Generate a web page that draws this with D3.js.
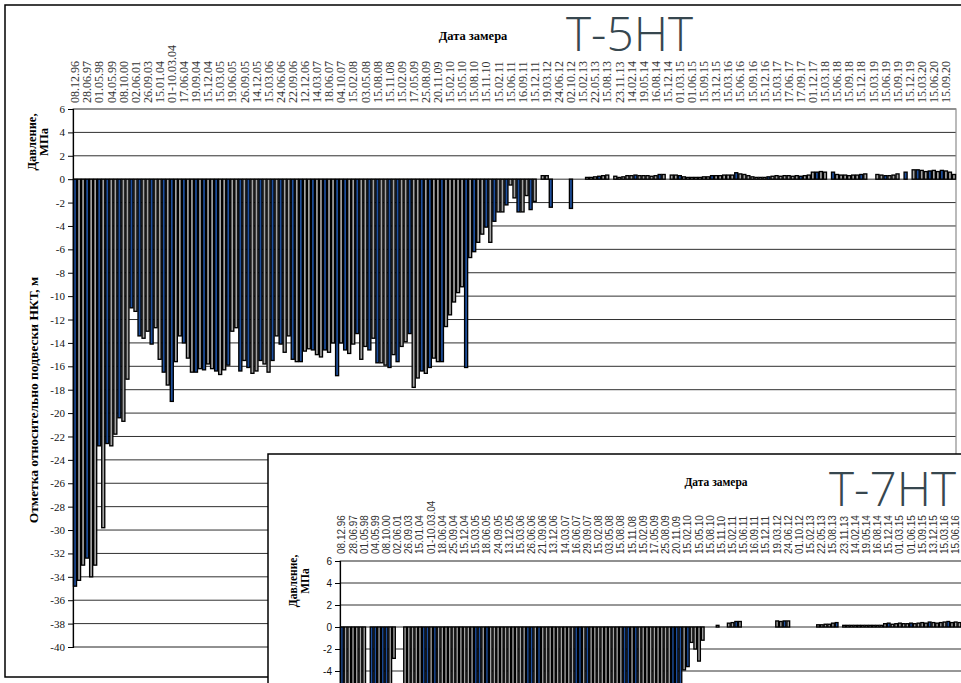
<!DOCTYPE html>
<html><head><meta charset="utf-8">
<script src="https://cdn.jsdelivr.net/npm/d3@7"></script>
<style>html,body{margin:0;padding:0;background:#fff;} svg{display:block;}</style>
</head><body>
<svg id="chart" width="961" height="683"></svg>
<script>
// ---------- DATA: well T-5НТ ----------
const datesT5 = ["08.12.96","28.06.97","01.05.98","04.05.99","08.10.00","02.06.01","26.09.03","15.01.04","01-10.03.04","17.06.04",
"19.09.04","15.12.04","15.03.05","19.06.05","26.09.05","14.12.05","15.03.06","24.06.06","22.09.06","12.12.06",
"14.03.07","18.06.07","04.10.07","15.02.08","03.05.08","15.08.08","15.11.08","15.02.09","17.05.09","25.08.09",
"20.11.09","15.02.10","15.05.10","15.08.10","15.11.10","15.02.11","15.06.11","16.09.11","15.12.11","19.03.12",
"24.06.12","02.10.12","15.02.13","22.05.13","15.08.13","23.11.13","14.02.14","19.05.14","16.08.14","15.12.14",
"01.03.15","01.06.15","15.09.15","13.12.15","15.03.16","15.06.16","15.09.16","15.12.16","15.03.17","17.06.17",
"17.09.17","01.12.17","15.03.18","15.06.18","15.09.18","15.12.18","15.03.19","15.06.19","15.09.19","15.12.19",
"15.03.20","15.06.20","15.09.20"];
// level relative to tubing hanger, m (one value per measurement, 219 measurements)
const levelT5 = [
-34.8,-34.3,-33.0,-32.4,-34.0,-33.0,-22.8,-29.8,-22.6,-22.8,
-21.8,-20.4,-20.7,-17.1,-11.0,-11.3,-13.4,-13.6,-13.0,-14.1,
-12.7,-15.4,-16.5,-17.6,-19.0,-15.6,-13.4,-14.0,-15.3,-16.5,
-16.5,-16.2,-16.3,-15.8,-16.2,-16.4,-16.7,-16.3,-15.9,-13.0,
-12.7,-16.4,-15.5,-16.1,-16.6,-16.4,-15.5,-15.8,-16.5,-15.5,
-13.4,-14.1,-14.8,-13.4,-15.4,-15.6,-15.6,-14.7,-14.5,-14.6,
-15.0,-15.2,-14.6,-14.8,-14.0,-16.8,-14.0,-14.6,-14.9,-14.1,
-13.2,-15.4,-14.3,-14.6,-13.6,-15.7,-15.7,-15.9,-16.1,-15.0,
-15.6,-14.3,-13.9,-13.2,-17.8,-17.0,-16.4,-16.6,-16.1,-15.3,
-15.6,-15.6,-12.6,-11.6,-10.5,-9.7,-9.2,-16.1,-6.7,-6.2,
-5.4,-4.7,-4.1,-5.4,-3.6,-2.8,-2.8,-2.2,-0.5,-1.6,
-2.8,-2.8,-1.4,-2.6,-1.9,null,null,null,-2.4,null,
null,null,null,-2.5,null,null,null,null,null,null,
null,null,null,null,null,null,null,null,null,null,
null,null,null,null,null,null,null,null,null,null,
null,null,null,null,null,null,null,null,null,null,
null,null,null,null,null,null,null,null,null,null,
null,null,null,null,null,null,null,null,null,null,
null,null,null,null,null,null,null,null,null,null,
null,null,null,null,null,null,null,null,null,null,
null,null,null,null,null,null,null,null,null,null,
null,null,null,null,null,null,null,null,null];
// pressure, MPa
const pressureT5 = [
null,null,null,null,null,null,null,null,null,null,
null,null,null,null,null,null,null,null,null,null,
null,null,null,null,null,null,null,null,null,null,
null,null,null,null,null,null,null,null,null,null,
null,null,null,null,null,null,null,null,null,null,
null,null,null,null,null,null,null,null,null,null,
null,null,null,null,null,null,null,null,null,null,
null,null,null,null,null,null,null,null,null,null,
null,null,null,null,null,null,null,null,null,null,
null,null,null,null,null,null,null,null,null,null,
null,null,null,null,null,null,null,null,null,null,
null,null,null,null,null,null,0.3,0.3,null,null,
null,null,null,null,null,null,null,0.15,0.15,0.2,
0.25,0.3,0.35,null,0.25,0.15,0.2,0.3,0.3,0.35,
0.3,0.3,0.3,0.25,0.3,0.4,0.4,null,0.35,0.35,
0.3,0.2,0.15,0.15,0.15,0.15,0.2,0.2,0.3,0.3,
0.3,0.35,0.35,0.35,0.55,0.45,0.4,0.3,0.2,0.15,
0.15,0.15,0.2,0.25,0.3,0.25,0.3,0.3,0.25,0.3,
0.25,0.3,0.35,0.6,0.6,0.65,0.6,null,0.6,0.4,
0.35,0.35,0.3,0.35,0.35,0.4,0.45,null,null,0.4,
0.35,0.3,0.3,0.35,0.45,null,0.6,null,0.8,0.8,
0.75,0.65,0.7,0.75,0.65,0.75,0.7,0.6,0.4];
// measurements drawn in blue (second measurement type)
const blueT5 = [0,3,6,8,11,14,16,19,22,24,27,30,32,35,38,41,43,46,49,51,54,56,59,62,65,67,70,73,75,78,80,83,86,88,91,97,99,102,104,107,110,113,118,123,130,139,145,150,158,164,172,180,184,188,195,201,206,209,212,215];

// ---------- DATA: well T-7НТ (visible part) ----------
const datesT7 = ["08.12.96","28.06.97","01.05.98","04.05.99","08.10.00","02.06.01","26.09.03","15.01.04","01-10.03.04","18.06.04",
"25.09.04","15.12.04","15.03.05","18.06.05","24.09.05","13.12.05","15.03.06","26.06.06","21.09.06","13.12.06",
"14.03.07","16.06.07","29.09.07","15.02.08","03.05.08","15.08.08","15.11.08","15.02.09","17.05.09","25.08.09",
"20.11.09","15.02.10","15.05.10","15.08.10","15.11.10","15.02.11","15.06.11","16.09.11","15.12.11","19.03.12",
"24.06.12","01.10.12","15.02.13","22.05.13","15.08.13","23.11.13","14.02.14","19.05.14","16.08.14","15.12.14",
"01.03.15","01.06.15","15.09.15","13.12.15","15.03.16","15.06.16"];
const levelT7 = [
-36.0,-35.0,-33.5,-33.0,-31.0,-29.0,-27.0,null,-25.0,-24.0,
-22.5,-21.0,-20.0,-17.0,-2.85,null,null,-13.5,-14.0,-14.8,
-15.2,-15.0,-16.1,-16.4,-15.8,-15.5,-16.0,-16.3,-15.9,-15.2,
-14.6,-14.9,-15.7,-16.2,-16.0,-15.4,-15.1,-14.8,-15.6,-16.1,
-16.5,-15.9,-15.3,-14.7,-14.2,-14.9,-15.5,-15.8,-16.0,-15.6,
-15.0,-14.4,-14.8,-15.3,-15.9,-16.3,-16.6,-16.1,-15.4,-14.9,
-14.5,-15.0,-15.7,-16.2,-16.8,-17.1,-16.5,-15.8,-15.2,-14.6,
-14.0,-13.6,-15.2,-12.8,-14.3,-11.9,-13.4,-10.8,-12.2,-9.7,
-11.1,-8.6,-10.0,-7.6,-9.1,-6.7,-8.3,-6.0,-7.4,-6.2,
-5.8,-5.9,-3.9,-3.6,-1.4,-2.0,-3.1,-1.2,null,null,
null,null,null,null,null,null,null,null,null,null,
null,null,null,null,null,null,null,null,null,null,
null,null,null,null,null,null,null,null,null,null,
null,null,null,null,null,null,null,null,null,null,
null,null,null,null,null,null,null,null,null,null,
null,null,null,null,null,null,null,null,null,null,
null,null,null,null,null,null,null,null];
const pressureT7 = [
null,null,null,null,null,null,null,null,null,null,
null,null,null,null,null,null,null,null,null,null,
null,null,null,null,null,null,null,null,null,null,
null,null,null,null,null,null,null,null,null,null,
null,null,null,null,null,null,null,null,null,null,
null,null,null,null,null,null,null,null,null,null,
null,null,null,null,null,null,null,null,null,null,
null,null,null,null,null,null,null,null,null,null,
null,null,null,null,null,null,null,null,null,null,
null,null,null,null,null,null,null,null,null,null,
null,0.15,null,null,0.35,0.4,0.5,0.5,null,null,
null,null,null,null,null,null,null,0.55,0.5,0.55,
0.55,null,null,null,null,null,null,null,0.2,0.2,
0.25,0.25,0.35,0.4,null,0.15,0.15,0.15,0.15,0.15,
0.15,0.15,0.15,0.15,0.15,0.15,0.3,0.35,0.25,0.3,
0.35,0.3,0.3,0.35,0.3,0.35,0.4,0.35,0.45,0.4,
0.35,0.4,0.45,0.5,0.4,0.45,0.4,0.3];
const blueT7 = [0,8,9,11,12,22,23,25,36,37,39,50,51,53,63,64,66,76,77,79,89,90,91,93,106,119,133,147,153,158,163];

const yTicks = [6,4,2,0,-2,-4,-6,-8,-10,-12,-14,-16,-18,-20,-22,-24,-26,-28,-30,-32,-34,-36,-38,-40];

// ---------- DRAW ----------
const svg = d3.select('#chart');
const H = 683;
const GREY = '#a3a3a3', BLUE = '#1d4f9e';

function drawWell(o) {
  const g = svg.append('g');
  const n = o.level.length;
  const x = d3.scaleBand().domain(d3.range(n)).range([o.left, o.right]).padding(0);
  const y = d3.scaleLinear().domain([-40, 6]).range([o.bottom, o.top]);
  const visTicks = yTicks.filter(d => y(d) < H - 4);
  // gridlines
  g.append('g').selectAll('line').data(visTicks).join('line')
    .attr('x1', o.left).attr('x2', o.right)
    .attr('y1', d => y(d)).attr('y2', d => y(d))
    .attr('stroke', '#303030').attr('stroke-width', 1);
  g.append('rect').attr('x', o.left).attr('y', y(6)).attr('width', o.right - o.left)
    .attr('height', y(-40) - y(6)).attr('fill', 'none').attr('stroke', '#8c8c8c').attr('stroke-width', 1.2);
  const bw = x.bandwidth();
  const fillOf = i => o.blue.includes(i) ? BLUE : GREY;
  const lev = o.level.map((v, i) => ({i, v})).filter(d => d.v != null);
  g.append('g').selectAll('rect').data(lev).join('rect')
    .attr('x', d => x(d.i) + 0.5).attr('width', bw - 1)
    .attr('y', y(0)).attr('height', d => y(d.v) - y(0))
    .attr('fill', d => fillOf(d.i)).attr('stroke', '#000').attr('stroke-width', 1.35);
  const pr = o.pressure.map((v, i) => ({i, v})).filter(d => d.v != null);
  g.append('g').selectAll('rect').data(pr).join('rect')
    .attr('x', d => x(d.i) + 0.5).attr('width', bw - 1)
    .attr('y', d => y(d.v)).attr('height', d => y(0) - y(d.v))
    .attr('fill', d => fillOf(d.i)).attr('stroke', '#000').attr('stroke-width', 1.35);
  // y axis
  const ya = g.append('g').attr('transform', `translate(${o.left},0)`)
    .call(d3.axisLeft(y).tickValues(visTicks).tickFormat(d => String(d)).tickSize(5).tickPadding(3));
  ya.select('.domain').attr('stroke', '#000').attr('stroke-width', 1.2);
  ya.selectAll('.tick line').attr('stroke', '#000');
  ya.selectAll('.tick text').attr('font-family', o.tickFont).attr('font-size', o.tickSize).attr('fill', '#111');
  // x axis (top), every third measurement labelled
  const xa = g.append('g').attr('transform', `translate(0,${y(6)})`)
    .call(d3.axisTop(x).tickValues(d3.range(0, n, 3).filter(i => i / 3 < o.dates.length))
      .tickFormat(i => o.dates[i / 3]).tickSize(0));
  xa.select('.domain').remove();
  xa.selectAll('.tick text')
    .attr('transform', 'rotate(-90)').attr('text-anchor', 'start')
    .attr('x', o.labelGap).attr('y', 0).attr('dy', '0.35em')
    .attr('font-family', o.labelFont).attr('font-size', o.labelSize).attr('fill', '#333');
  // titles
  const tf = "'Liberation Serif','Times New Roman',serif";
  g.append('text').attr('x', o.dateX).attr('y', o.dateY).attr('text-anchor', 'middle')
    .attr('font-family', tf).attr('font-weight', 'bold').attr('font-size', o.dateSize).text('Дата замера');
  o.pTitle.forEach((t, k) => {
    g.append('text').attr('transform', `translate(${o.pTitleX[k]},${o.pTitleY}) rotate(-90)`)
      .attr('text-anchor', 'middle').attr('font-family', tf).attr('font-weight', 'bold')
      .attr('font-size', o.pTitleSize).text(t);
  });
  g.append('text').attr('x', o.nameX).attr('y', o.nameY)
    .attr('font-family', "'Open Sans','Noto Sans',sans-serif").attr('font-weight', 300)
    .attr('font-size', 48).attr('fill', '#37474f')
    .attr('textLength', 127).attr('lengthAdjust', 'spacingAndGlyphs').text(o.name);
  return g;
}

// main chart frame
svg.append('rect').attr('x', 5).attr('y', 5).attr('width', 1000).attr('height', 672)
  .attr('fill', '#fff').attr('stroke', '#000').attr('stroke-width', 1.5);
const g5 = drawWell({
  level: levelT5, pressure: pressureT5, blue: blueT5, dates: datesT5,
  left: 73, right: 956, top: 109, bottom: 647,
  tickFont: "'Liberation Serif',serif", tickSize: 11,
  labelFont: "'Liberation Serif',serif", labelSize: 12, labelGap: 6,
  dateX: 473, dateY: 40, dateSize: 12.5,
  pTitle: ['Давление,', 'МПа'], pTitleX: [36, 48], pTitleY: 142, pTitleSize: 12.5,
  name: 'Т-5НТ', nameX: 566, nameY: 51
});
g5.append('text').attr('transform', 'translate(38,400) rotate(-90)').attr('text-anchor', 'middle')
  .attr('font-family', "'Liberation Serif',serif").attr('font-weight', 'bold').attr('font-size', 13.5)
  .text('Отметка относительно подвески НКТ, м');

// inset chart (T-7НТ)
svg.append('rect').attr('x', 268).attr('y', 454).attr('width', 800).attr('height', 400)
  .attr('fill', '#fff').attr('stroke', '#000').attr('stroke-width', 1.5);
drawWell({
  level: levelT7, pressure: pressureT7, blue: blueT7, dates: datesT7,
  left: 340, right: 965, top: 561, bottom: 1067,
  tickFont: "'Liberation Sans',sans-serif", tickSize: 10,
  labelFont: "'Liberation Sans',sans-serif", labelSize: 10, labelGap: 7,
  dateX: 716, dateY: 486, dateSize: 11.5,
  pTitle: ['Давление,', 'МПа'], pTitleX: [297, 309], pTitleY: 581, pTitleSize: 11.5,
  name: 'Т-7НТ', nameX: 829, nameY: 506
});
</script>
</body></html>
